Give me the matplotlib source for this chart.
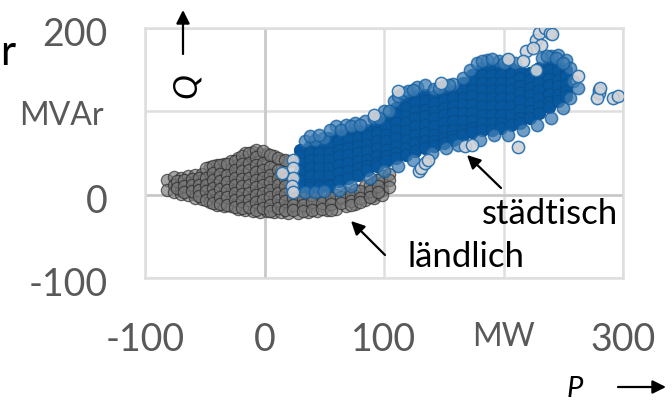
import matplotlib
matplotlib.use("Agg")
import matplotlib.pyplot as plt
from matplotlib.transforms import ScaledTranslation

plt.rcParams['font.family'] = ['Lato', 'DejaVu Sans']

x_ticks = [-100, 0, 100, 200, 300]
x_labels = ['-100', '0', '100', 'MW', '300']
y_ticks = [-100, 0, 100, 200]
y_labels = ['-100', '0', 'MVAr', '200']

rural_p = [-82, -76, -70, -64, -58, -52, -46, -40, -34, -28, -22, -16, -10, -4, 2, 8, 14, 20, 28, 36,
           44, 52, 60, 68, 76, 84, 92, 98, 104]
rural_q = [
    [18, 5], [21, 12, 3], [20, 13, 6, 1], [22, 14, 7, 0], [23, 16, 8, 1, -4],
    [25, 17, 10, 3, -5], [33, 24, 14, 6, -2, -9], [36, 29, 20, 11, 2, -6, -12], [37, 28, 19, 10, 1, -7, -14],
    [40, 31, 22, 13, 4, -5, -14], [44, 35, 26, 17, 8, -1, -9, -17], [50, 41, 32, 23, 14, 5, -4, -12, -18],
    [51, 43, 34, 25, 16, 7, -2, -11, -20], [49, 40, 31, 22, 13, 4, -5, -14, -21], [49, 36, 27, 18, 9, 0, -9, -20],
    [46, 32, 23, 14, 5, -4, -13, -21], [42, 25, 16, 7, -2, -11, -21], [40, 21, 12, 3, -6, -15, -22],
    [18, 9, 0, -9, -16, -22], [8, 0, -8, -15, -21], [4, -4, -12, -20], [2, -6, -13, -19],
    [0, -8, -17], [2, -5, -14], [6, -2, -11], [10, 2, -6], [15, 7, 0, -4], [22, 14, 6, 0], [25, 17, 9]]

# second pass over the same cloud, between the columns above
rural2_p = [-73, -67, -61, -55, -49, -43, -37, -31, -25, -19, -13, -7, -1, 5, 11, 17, 24, 32, 40, 48, 56, 64, 72,
            80, 88, 95]
rural2_q = [
    [16, 8], [18, 10, 3], [19, 11, 4], [20, 12, 5, -2], [32, 20, 12, 4, -6], [34, 26, 17, 8, 0, -10],
    [36, 25, 16, 7, -3, -11], [37, 24, 15, 6, -3, -12], [40, 29, 20, 11, 2, -7, -15], [46, 37, 28, 19, 10, 1, -8, -16],
    [50, 38, 29, 20, 11, 2, -7, -15], [54, 45, 36, 27, 18, 9, 0, -9, -19], [52, 38, 29, 20, 11, 2, -7, -16],
    [48, 33, 24, 15, 6, -3, -12, -20], [44, 29, 20, 11, 2, -7, -16], [42, 19, 10, 1, -8, -18], [14, 5, -4, -12, -19],
    [4, -4, -12, -20], [0, -9, -18], [-2, -10, -17], [-4, -11, -18], [-3, -10], [0, -8, -13], [4, -4, -9], [12, 4, -3],
    [18, 10, 3]]

# solid part of the urban band
urban_core_p = [30, 38, 46, 54, 62, 70, 78, 86, 94, 102, 110, 118, 126, 134, 142, 150, 158, 166, 174,
                182, 190, 198, 206, 214, 222, 230, 238, 246, 252]
urban_core_q = [
    [54, 46, 38, 28, 18, 10], [58, 50, 42, 32, 22, 12, 8], [58, 50, 42, 32, 22, 12, 9], [68, 60, 50, 42, 32, 22, 12, 10],
    [72, 64, 54, 46, 36, 26, 16], [74, 66, 56, 48, 38, 28, 20], [76, 68, 58, 50, 40, 32, 24],
    [78, 70, 60, 52, 42, 34, 29], [82, 74, 64, 56, 46, 38, 34], [90, 82, 72, 64, 54, 46, 40],
    [104, 96, 86, 78, 68, 58, 50, 44], [112, 104, 94, 86, 76, 66, 56, 48], [118, 110, 100, 92, 82, 72, 62, 52],
    [120, 112, 102, 94, 84, 74, 64, 56], [118, 110, 100, 92, 82, 72, 64, 58], [122, 114, 104, 96, 86, 76, 68, 62],
    [124, 116, 106, 98, 88, 78, 70, 66], [134, 126, 116, 108, 98, 88, 78, 72],
    [144, 136, 126, 118, 108, 98, 88, 80, 75], [152, 144, 134, 126, 116, 106, 96, 86, 77],
    [152, 144, 134, 126, 116, 106, 96, 86, 78], [152, 144, 134, 126, 116, 106, 96, 86, 80],
    [152, 144, 134, 126, 116, 106, 96, 84], [148, 140, 130, 122, 112, 102, 92, 86],
    [146, 138, 128, 120, 110, 100, 92], [152, 144, 134, 126, 116, 106, 98], [157, 149, 139, 131, 121, 111, 105],
    [156, 148, 138, 130, 120, 112], [150, 142, 132, 124, 118]]

# outline of the band, where the rings still show
urban_rim_p = [34, 42, 50, 60, 68, 76, 84, 92, 100, 108, 112, 116, 120, 128, 134,
               142, 150, 158, 166, 172, 178, 186, 196, 204, 210, 240, 246, 252, 256, 258, 262,
               34, 42, 50, 62, 72, 88, 100, 112, 124, 140, 152, 162, 180, 192, 204, 216, 228, 240, 250, 256,
               38, 46, 55, 64, 72, 80, 96, 104, 124, 146, 154, 182, 190, 200, 232, 236, 244, 250]
urban_rim_q = [64, 66, 68, 82, 84, 86, 88, 92, 100, 112, 118, 122, 124, 129, 131,
               127, 130, 133, 140, 150, 158, 162, 160, 162, 158, 166, 168, 162, 152, 136, 128,
               3, 3, 4, 6, 10, 20, 28, 34, 42, 50, 56, 60, 66, 72, 72, 78, 84, 92, 104, 116,
               70, 72, 78, 78, 82, 84, 92, 100, 126, 128, 131, 160, 163, 158, 164, 166, 164, 158]

# stray points, pale in the original
stray_p = [24, 24, 24, 23, 24, 15, 92, 112, 280, 280, 278, 281, 292, 296, 262, 212, 129, 131, 134, 137, 168, 174,
           219, 216, 227, 230, 235, 239, 241, 231, 225, 227, 148, 204]
stray_q = [42, 32, 20, 10, 3, 26, 96, 124, 126, 122, 116, 128, 116, 118, 142, 57, 28, 32, 38, 42, 58, 60,
           172, 160, 186, 194, 200, 194, 193, 180, 176, 150, 134, 163]

rural_xs = [p for p, qs in zip(rural_p + rural2_p, rural_q + rural2_q) for q in qs]
rural_ys = [q for qs in rural_q + rural2_q for q in qs]
core_xs = [p for p, qs in zip(urban_core_p, urban_core_q) for q in qs]
core_ys = [q for qs in urban_core_q for q in qs]

fig = plt.figure(figsize=(6.72, 4.03), dpi=100)
ax = fig.add_axes([145 / 672, 1 - 278 / 403, (623 - 145) / 672, (278 - 28) / 403])

ax.scatter(rural_xs, rural_ys, s=78, facecolor='#7a7a7a', edgecolor='#2b2b2b', linewidth=0.9, alpha=0.68, zorder=3)
ax.scatter(core_xs, core_ys, s=78, facecolor='#07589f', edgecolor='#0a4f8c', linewidth=0.7, zorder=4)
ax.scatter(urban_rim_p, urban_rim_q, s=78, facecolor='#3f7db3', edgecolor='#0f5c9f', linewidth=1.1, alpha=0.75, zorder=5)
ax.scatter(stray_p, stray_q, s=78, facecolor='#cfd3d8', edgecolor='#1f6cae', linewidth=1.1, alpha=0.9, zorder=6)

ax.set_xlim(-100, 300)
ax.set_ylim(-100, 200)
ax.set_xticks(x_ticks)
ax.set_xticklabels(x_labels)
ax.set_yticks(y_ticks)
ax.set_yticklabels(y_labels)
ax.grid(True, color='#dedede', linewidth=1.8)
ax.set_axisbelow(True)
ax.axhline(0, color='#c8c8c8', linewidth=1.8, zorder=1)
ax.axvline(0, color='#c8c8c8', linewidth=1.8, zorder=1)
for s in ax.spines.values():
    s.set_color('#dedede')
    s.set_linewidth(1.8)
ax.tick_params(length=0, labelsize=27, labelcolor='#595959')
ax.tick_params(axis='x', pad=32)
ax.tick_params(axis='y', pad=27)

# the labels sit a bit below their gridlines in the original
y_shift = ScaledTranslation(0, -4 / 100, fig.dpi_scale_trans)
unit_shift = ScaledTranslation(-4 / 100, 2 / 100, fig.dpi_scale_trans)
for lab in ax.get_yticklabels():
    lab.set_transform(lab.get_transform() + y_shift)
    if lab.get_text() == 'MVAr':
        lab.set_fontsize(23)
        lab.set_transform(lab.get_transform() + unit_shift)
for lab in ax.get_xticklabels():
    if lab.get_text() == 'MW':
        lab.set_fontsize(23)


def px(x, y):
    return (x / 672, 1 - y / 403)


def arrow(start, end):
    ax.annotate('', xy=px(*end), xytext=px(*start), xycoords='figure fraction', textcoords='figure fraction',
                arrowprops=dict(arrowstyle='-|>', color='black', lw=1.6, mutation_scale=20, shrinkA=0, shrinkB=0),
                zorder=8, annotation_clip=False)


arrow((183, 54), (183, 10))
arrow((618, 387), (666, 387))
arrow((501, 188), (467, 155))
arrow((385, 255), (351, 221))

fig.text(*px(482, 224), 'städtisch', fontsize=25, color='black', va='baseline', zorder=9)
fig.text(*px(407, 267), 'ländlich', fontsize=25, color='black', va='baseline', zorder=9)
fig.text(*px(0, 65), 'r', fontsize=30, color='black', va='baseline')
fig.text(*px(187, 86), 'Q', fontsize=24, style='italic', rotation=90, color='black', va='center', ha='center')
fig.text(*px(575, 402), 'P', fontsize=21, style='italic', color='black', va='bottom', ha='center')

fig.savefig('out.png', dpi=100)
